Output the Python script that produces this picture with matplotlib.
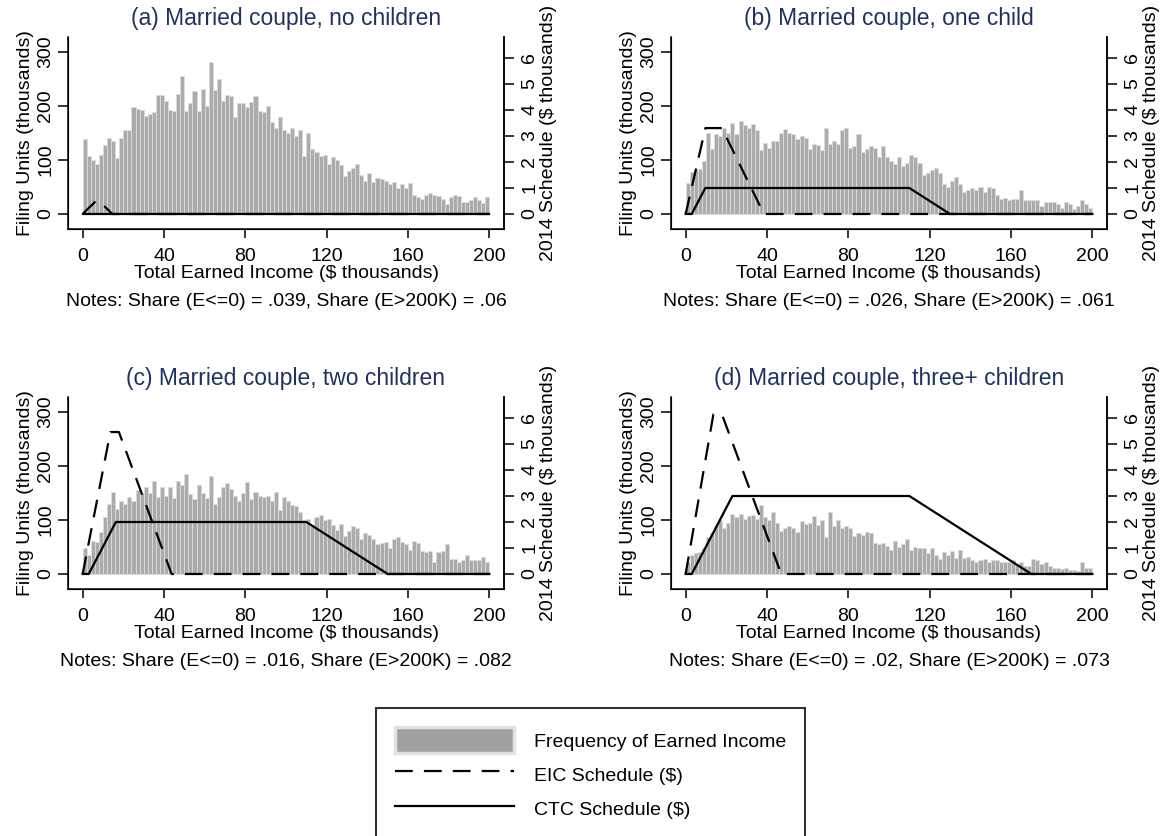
import numpy as np
import matplotlib
matplotlib.use('Agg')
import matplotlib.pyplot as plt
from matplotlib.patches import Patch
from matplotlib.lines import Line2D

plt.rcParams['font.family'] = ['Liberation Sans', 'DejaVu Sans']

# histogram of earned income, 2k bins from 0 to 200 (thousands of filing units)
bin_left = np.arange(0, 200, 2)

freq_a = [138, 108, 100, 92, 110, 128, 140, 135, 103, 140,
          155, 155, 198, 195, 192, 182, 185, 188, 220, 220,
          210, 192, 190, 222, 255, 190, 205, 228, 190, 232,
          200, 282, 230, 250, 210, 220, 218, 180, 205, 205,
          198, 208, 218, 190, 188, 200, 170, 160, 180, 155,
          150, 160, 145, 155, 108, 150, 120, 115, 108, 110,
          92, 105, 100, 90, 70, 80, 85, 92, 72, 62,
          75, 60, 66, 65, 62, 55, 60, 48, 55, 48,
          58, 35, 32, 28, 35, 38, 36, 33, 28, 18,
          32, 35, 33, 22, 22, 25, 32, 25, 20, 32]

freq_b = [58, 78, 82, 84, 98, 150, 120, 148, 145, 160,
          150, 168, 148, 172, 165, 160, 167, 155, 118, 132,
          122, 135, 135, 150, 158, 150, 148, 138, 145, 140,
          120, 130, 128, 118, 160, 130, 135, 130, 155, 160,
          122, 125, 148, 115, 120, 125, 122, 105, 125, 105,
          98, 92, 105, 88, 95, 110, 105, 95, 72, 75,
          82, 85, 75, 55, 50, 62, 68, 55, 40, 45,
          48, 45, 50, 40, 50, 48, 35, 28, 30, 25,
          28, 28, 45, 25, 25, 25, 25, 15, 22, 22,
          22, 18, 12, 22, 18, 10, 15, 25, 18, 12]

freq_c = [48, 35, 62, 60, 78, 105, 130, 152, 120, 135,
          130, 142, 135, 155, 150, 162, 150, 172, 142, 162,
          145, 162, 140, 172, 165, 185, 148, 138, 165, 150,
          140, 182, 130, 142, 162, 168, 158, 145, 135, 150,
          170, 138, 152, 145, 142, 145, 135, 152, 118, 142,
          135, 128, 125, 115, 100, 102, 88, 105, 110, 100,
          102, 90, 82, 92, 70, 80, 88, 85, 65, 75,
          72, 65, 55, 58, 60, 48, 65, 68, 60, 55,
          45, 62, 58, 42, 40, 42, 22, 40, 42, 55,
          28, 28, 22, 25, 35, 25, 25, 25, 32, 22]

freq_d = [22, 35, 38, 40, 48, 68, 75, 88, 100, 85,
          95, 112, 105, 112, 102, 108, 110, 102, 128, 105,
          100, 115, 95, 80, 85, 88, 85, 78, 98, 92,
          95, 108, 90, 100, 68, 115, 88, 100, 85, 88,
          85, 70, 75, 72, 78, 75, 58, 55, 58, 52,
          45, 62, 50, 55, 65, 45, 50, 48, 48, 38,
          48, 35, 28, 40, 35, 42, 30, 45, 30, 32,
          25, 22, 25, 28, 22, 25, 25, 22, 22, 22,
          25, 18, 22, 15, 15, 28, 25, 18, 22, 15,
          12, 12, 10, 12, 8, 8, 5, 22, 12, 12]

# 2014 schedules, $ thousands (kink points)
eic_x_a = [0, 6.48, 8.11, 14.59, 200]
eic_y_a = [0, 0.496, 0.496, 0, 0]
eic_x_b = [0, 9.72, 17.83, 38.51, 200]
eic_y_b = [0, 3.305, 3.305, 0, 0]
eic_x_c = [0, 13.65, 17.83, 43.756, 200]
eic_y_c = [0, 5.46, 5.46, 0, 0]
eic_x_d = [0, 13.65, 17.83, 46.997, 200]
eic_y_d = [0, 6.143, 6.143, 0, 0]

ctc_x_a = [0, 200]
ctc_y_a = [0, 0]
ctc_x_b = [0, 3, 9.667, 110, 130, 200]
ctc_y_b = [0, 0, 1, 1, 0, 0]
ctc_x_c = [0, 3, 16.333, 110, 150, 200]
ctc_y_c = [0, 0, 2, 2, 0, 0]
ctc_x_d = [0, 3, 23, 110, 170, 200]
ctc_y_d = [0, 0, 3, 3, 0, 0]

titles = ['(a) Married couple, no children', '(b) Married couple, one child',
          '(c) Married couple, two children', '(d) Married couple, three+ children']
notes = ['Notes: Share (E<=0) = .039, Share (E>200K) = .06',
         'Notes: Share (E<=0) = .026, Share (E>200K) = .061',
         'Notes: Share (E<=0) = .016, Share (E>200K) = .082',
         'Notes: Share (E<=0) = .02, Share (E>200K) = .073']

W, H = 1166, 836
fig = plt.figure(figsize=(W/100, H/100), dpi=100)

def rect(l, t, r, b):
    return [l/W, 1-b/H, (r-l)/W, (b-t)/H]

boxes = [(68, 37, 504, 229), (671, 37, 1107, 229), (68, 397, 504, 589), (671, 397, 1107, 589)]
freqs = [freq_a, freq_b, freq_c, freq_d]
eics = [(eic_x_a, eic_y_a), (eic_x_b, eic_y_b), (eic_x_c, eic_y_c), (eic_x_d, eic_y_d)]
ctcs = [(ctc_x_a, ctc_y_a), (ctc_x_b, ctc_y_b), (ctc_x_c, ctc_y_c), (ctc_x_d, ctc_y_d)]

title_col = '#1e3160'
fs = 14
ylo, yhi = -27.8, 327.8
ratio = 48.15
lw = 1.6
dash = (8, 5)

for i in range(4):
    l, t, r, b = boxes[i]
    ax = fig.add_axes(rect(l, t, r, b))
    ax.bar(bin_left, freqs[i], width=2, align='edge', color='#ababab', edgecolor='#dcdcdc', linewidth=0.6)
    ax.set_xlim(-7.2, 207.2)
    ax.set_ylim(ylo, yhi)
    ax.set_xticks([0, 40, 80, 120, 160, 200])
    ax.set_yticks([0, 100, 200, 300])
    ax.spines['top'].set_visible(False)
    for s in ['left', 'bottom', 'right']:
        ax.spines[s].set_linewidth(1.1)
    ax.tick_params(axis='x', length=6.5, width=1.1, labelsize=fs, pad=7)
    ax.tick_params(axis='y', length=7, width=1.1, labelsize=fs, pad=3)
    for lab in ax.get_yticklabels():
        lab.set_rotation(90)
        lab.set_va('center')
    ax.set_xlabel('Total Earned Income ($ thousands)', fontsize=fs, labelpad=0)
    ax.set_ylabel('Filing Units (thousands)', fontsize=fs, labelpad=2)

    ax2 = ax.twinx()
    ax2.set_ylim(ylo/ratio, yhi/ratio)
    ax2.set_yticks(range(0, 7))
    ax2.spines['top'].set_visible(False)
    ax2.spines['right'].set_linewidth(1.1)
    ax2.tick_params(axis='y', length=7, width=1.1, labelsize=fs, pad=5.5)
    for lab in ax2.get_yticklabels():
        lab.set_rotation(90)
        lab.set_va('center')
    ax2.set_ylabel('2014 Schedule ($ thousands)', fontsize=fs, labelpad=1)
    ax2.plot(ctcs[i][0], ctcs[i][1], color='black', lw=lw)
    ax2.plot(eics[i][0], eics[i][1], color='black', lw=lw, dashes=dash)

    cx = (l + r) / 2 / W
    fig.text(cx, 1 - (t - 19) / H, titles[i], ha='center', va='center', fontsize=16.5, color=title_col)
    fig.text(cx, 1 - (b + 73) / H, notes[i], ha='center', va='center', fontsize=fs)

handles = [Patch(facecolor='#a0a0a0', edgecolor='#e2e2e2', linewidth=2.5),
           Line2D([], [], color='black', lw=lw, dashes=dash),
           Line2D([], [], color='black', lw=lw)]
labels = ['Frequency of Earned Income', 'EIC Schedule ($)', 'CTC Schedule ($)']
leg = fig.legend(handles, labels, loc='upper left', bbox_to_anchor=(376/W, 1 - 708/H),
                 fontsize=fs, frameon=True, fancybox=False, edgecolor='black',
                 handlelength=6.1, handleheight=1.65, handletextpad=1.0,
                 labelspacing=0.45, borderpad=1.0, borderaxespad=0)
leg.get_frame().set_linewidth(1.5)

fig.savefig('out.png', dpi=100)
